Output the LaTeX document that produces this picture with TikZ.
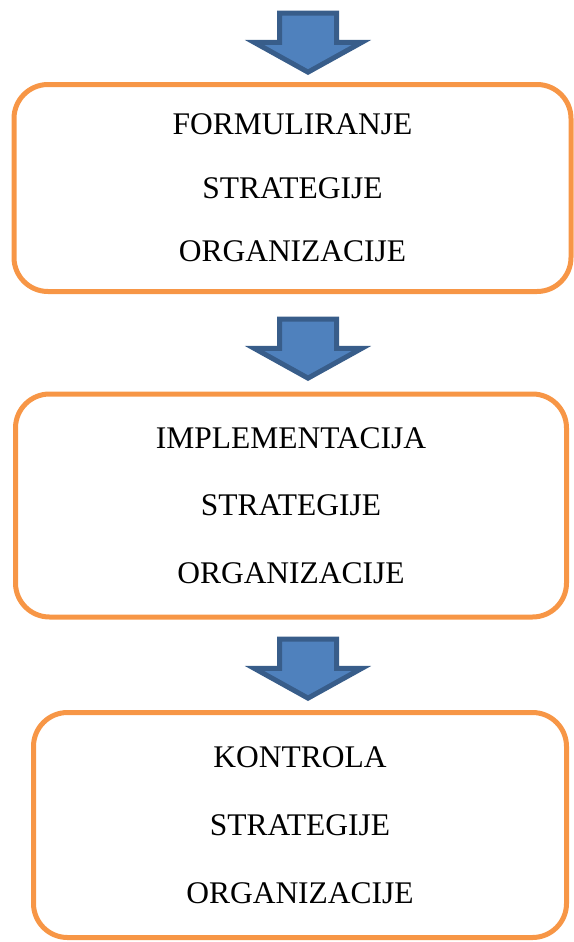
\documentclass[tikz,border=0pt]{standalone}
\usepackage{fontspec}
\setmainfont{Liberation Serif}
\usetikzlibrary{shapes.arrows}

\definecolor{boxorange}{HTML}{F79646}
\definecolor{arrowfill}{HTML}{4F81BD}
\definecolor{arrowline}{HTML}{385D8A}

\tikzset{
  stagebox/.style={draw=boxorange, line width=5pt, rounded corners=34pt,
    align=center, inner sep=0pt},
  downarrow/.style={single arrow, draw=arrowline, fill=arrowfill,
    line width=5pt, rotate=-90, inner xsep=0pt, inner ysep=26pt, anchor=tip,
    minimum height=59pt, minimum width=102pt,
    single arrow head extend=25pt, single arrow tip angle=122},
}

\begin{document}
\begin{tikzpicture}[x=1pt, y=-1pt]
  \useasboundingbox (0,0) rectangle (573,942);

  \node[stagebox, minimum width=557pt, minimum height=207pt,
    font=\fontsize{31.5pt}{63.5pt}\selectfont] (formul) at (292.5,188)
    {FORMULIRANJE\\STRATEGIJE\\ORGANIZACIJE};
  \node[stagebox, minimum width=551pt, minimum height=223pt,
    font=\fontsize{31.5pt}{67.5pt}\selectfont] (implem) at (291,505.5)
    {IMPLEMENTACIJA\\STRATEGIJE\\ORGANIZACIJE};
  \node[stagebox, minimum width=533pt, minimum height=225pt,
    font=\fontsize{31.5pt}{68pt}\selectfont] (kontr) at (300,825)
    {KONTROLA\\STRATEGIJE\\ORGANIZACIJE};

  % block arrows between the stages
  \node[downarrow] (a1) at (308,75) {};
  \node[downarrow] (a2) at (308,381) {};
  \node[downarrow] (a3) at (308,701) {};
\end{tikzpicture}
\end{document}
